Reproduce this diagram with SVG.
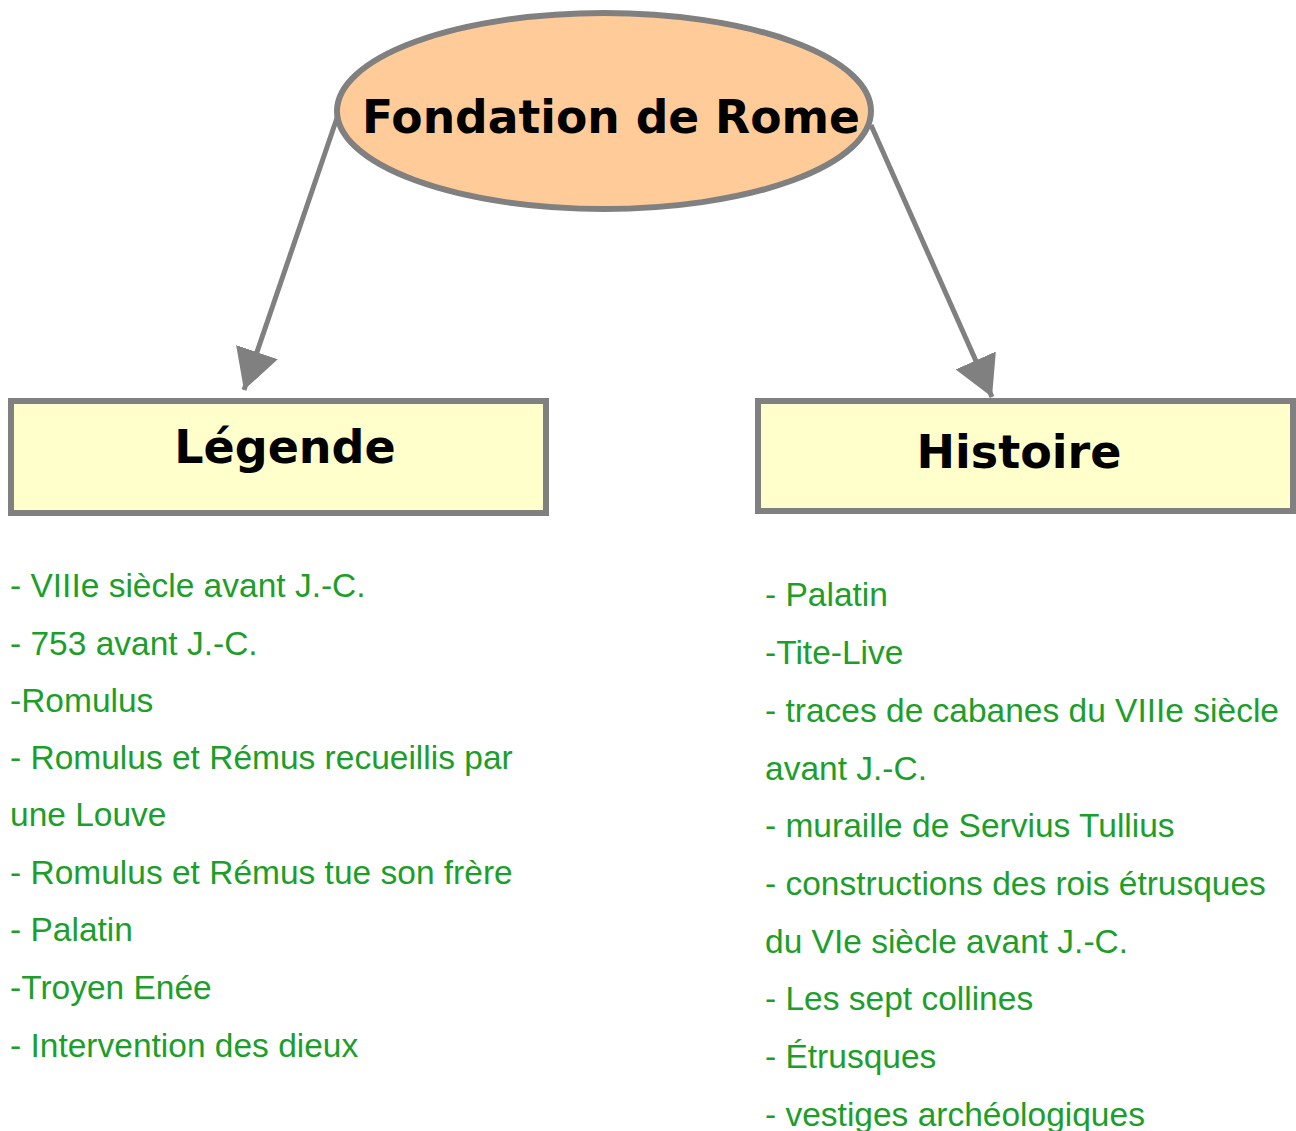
<svg xmlns="http://www.w3.org/2000/svg" width="1296" height="1131" viewBox="0 0 1296 1131">
  <style>
    .title { font-family: "DejaVu Sans", "Liberation Sans", sans-serif; font-weight: bold; font-size: 46px; fill: #000; }
    .item { font-family: "Liberation Sans", Arial, sans-serif; font-size: 33.5px; fill: #1c9e2a; }
    .box { fill: #ffffcc; stroke: #808080; stroke-width: 6; }
    .conn { stroke: #808080; stroke-width: 5; fill: none; }
  </style>
  <defs>
    <marker id="arrow" markerUnits="userSpaceOnUse" markerWidth="42" markerHeight="44" refX="40" refY="22" orient="auto" viewBox="0 0 42 44">
      <path d="M0,0 L40,22 L0,44 Z" fill="#808080"/>
    </marker>
  </defs>
  <rect width="1296" height="1131" fill="#ffffff"/>

  <g id="connectors">
    <line class="conn" x1="338" y1="115" x2="244" y2="390" marker-end="url(#arrow)"/>
    <line class="conn" x1="871" y1="125" x2="992" y2="397" marker-end="url(#arrow)"/>
  </g>

  <g id="node-fondation">
    <ellipse cx="604" cy="111" rx="267" ry="98" fill="#ffcc99" stroke="#808080" stroke-width="6"/>
    <text class="title" x="611" y="133" text-anchor="middle" textLength="498" lengthAdjust="spacingAndGlyphs">Fondation de Rome</text>
  </g>

  <g id="node-legende">
    <rect class="box" x="11" y="401" width="535" height="112"/>
    <text class="title" x="285" y="463" text-anchor="middle">Légende</text>
  </g>

  <g id="node-histoire">
    <rect class="box" x="758" y="401" width="535" height="110"/>
    <text class="title" x="1019" y="468" text-anchor="middle">Histoire</text>
  </g>

  <g id="legende-items">
    <text class="item" x="10" y="597">- VIIIe siècle avant J.-C.</text>
    <text class="item" x="10" y="655">- 753 avant J.-C.</text>
    <text class="item" x="10" y="712">-Romulus</text>
    <text class="item" x="10" y="769">- Romulus et Rémus recueillis par</text>
    <text class="item" x="10" y="826">une Louve</text>
    <text class="item" x="10" y="884">- Romulus et Rémus tue son frère</text>
    <text class="item" x="10" y="941">- Palatin</text>
    <text class="item" x="10" y="999">-Troyen Enée</text>
    <text class="item" x="10" y="1057">- Intervention des dieux</text>
  </g>

  <g id="histoire-items">
    <text class="item" x="765" y="606">- Palatin</text>
    <text class="item" x="765" y="664">-Tite-Live</text>
    <text class="item" x="765" y="722">- traces de cabanes du VIIIe siècle</text>
    <text class="item" x="765" y="780">avant J.-C.</text>
    <text class="item" x="765" y="837">- muraille de Servius Tullius</text>
    <text class="item" x="765" y="895">- constructions des rois étrusques</text>
    <text class="item" x="765" y="953">du VIe siècle avant J.-C.</text>
    <text class="item" x="765" y="1010">- Les sept collines</text>
    <text class="item" x="765" y="1068">- Étrusques</text>
    <text class="item" x="765" y="1126">- vestiges archéologiques</text>
  </g>
</svg>
